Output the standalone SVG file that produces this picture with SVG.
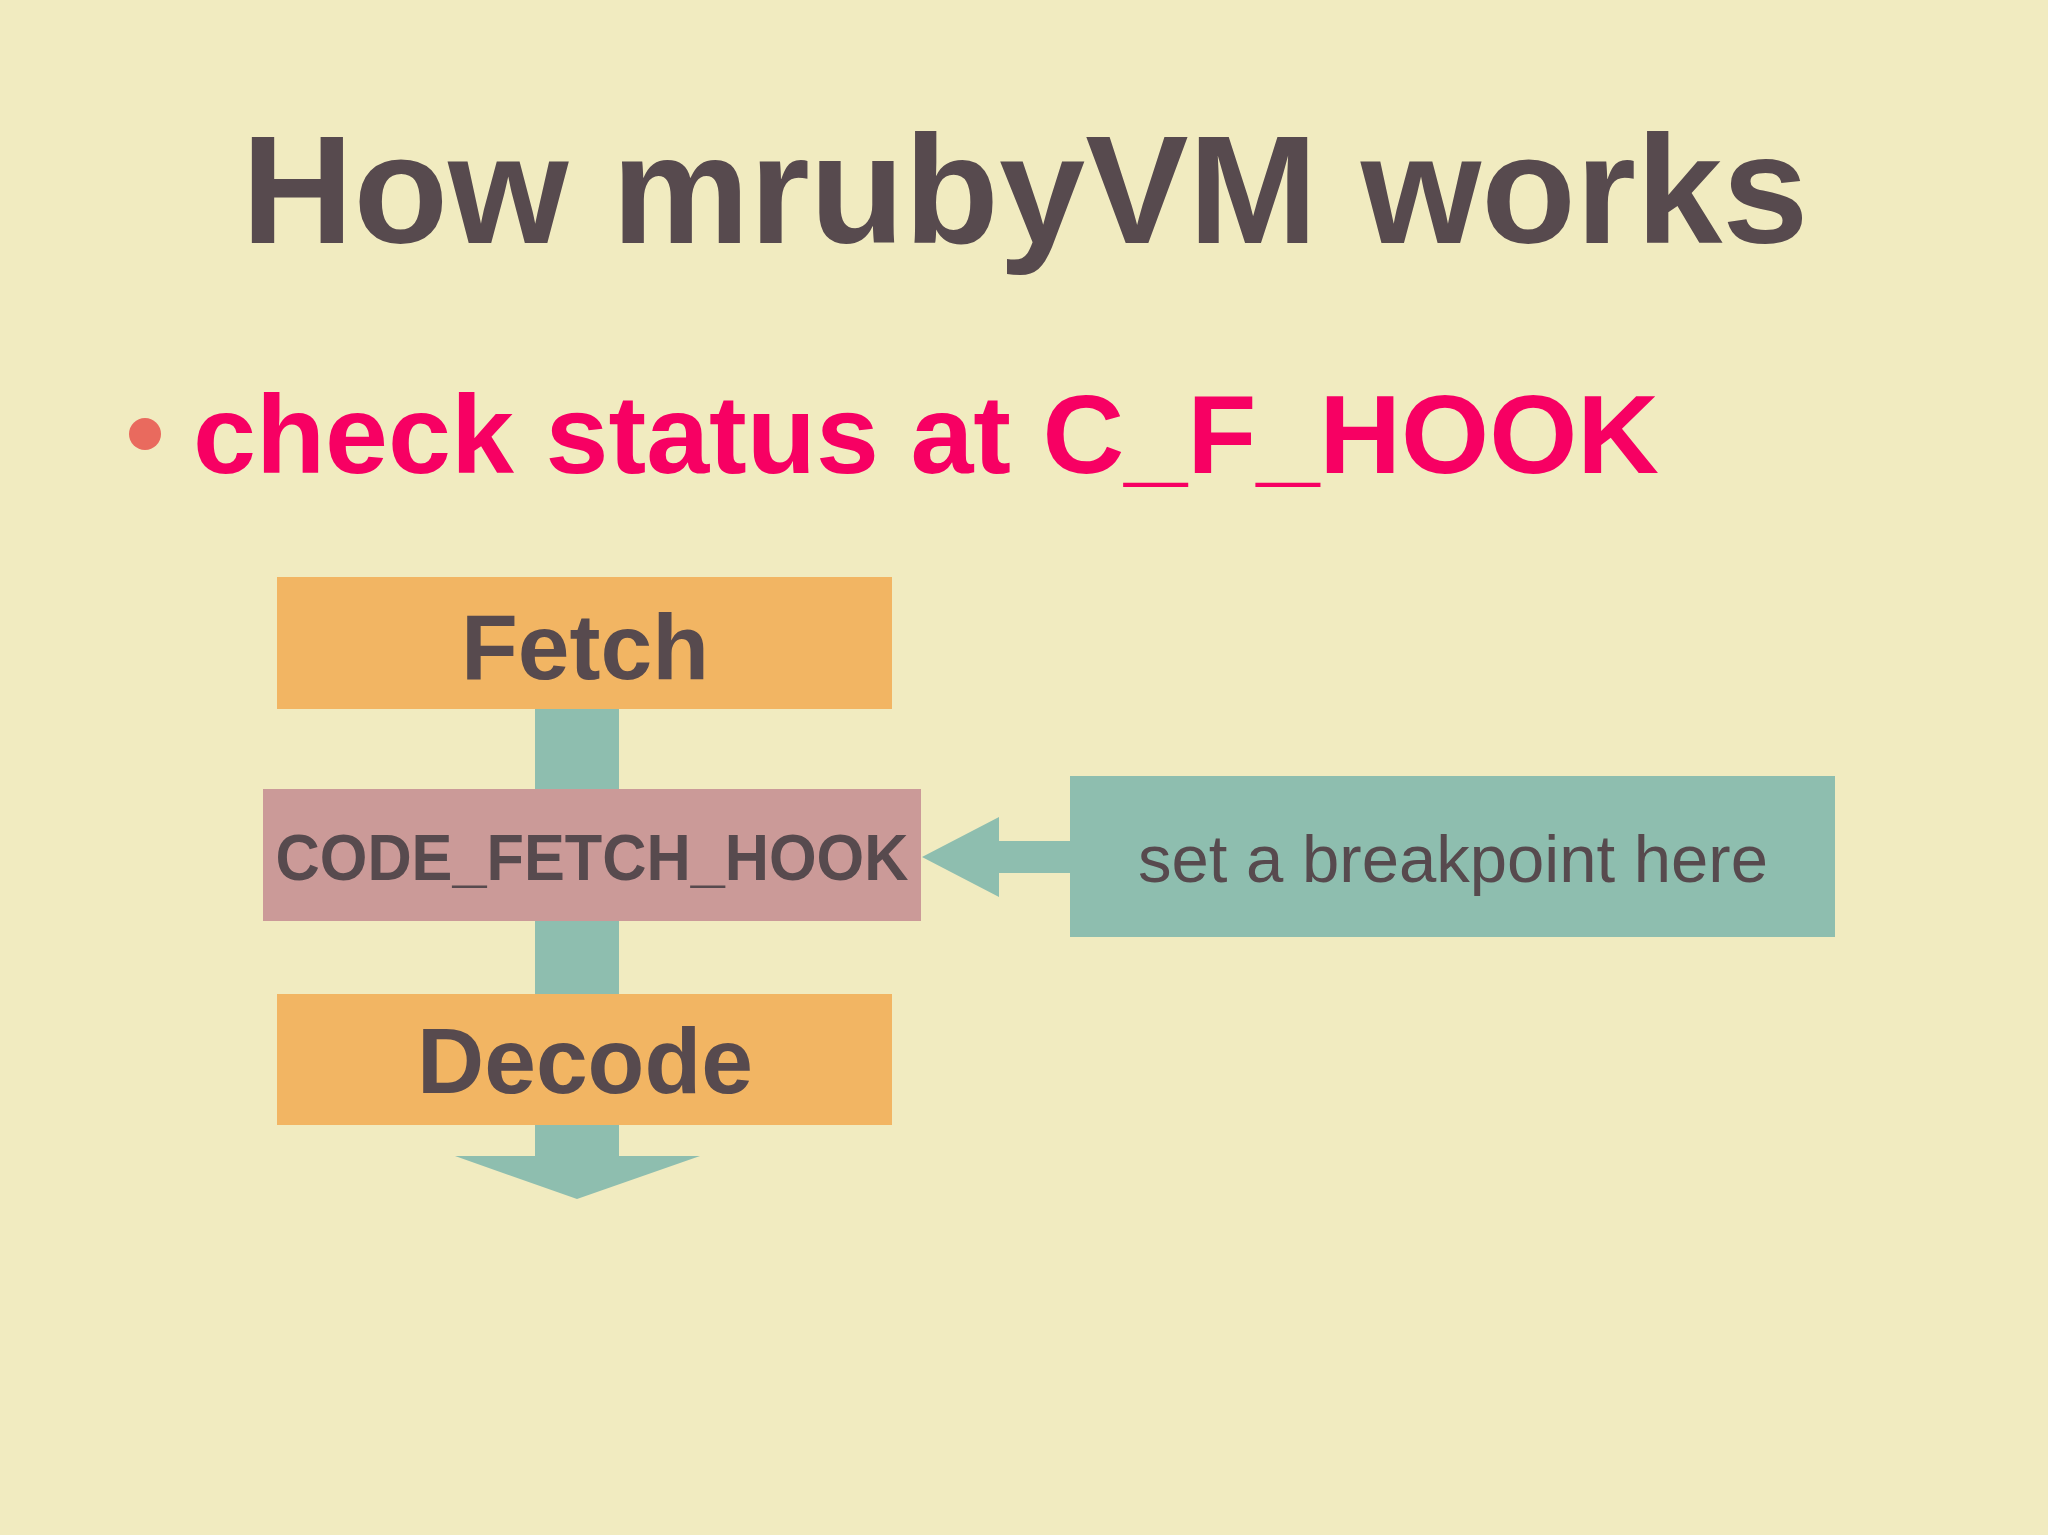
<svg xmlns="http://www.w3.org/2000/svg" width="2048" height="1535" viewBox="0 0 2048 1535">
<style>
  .dark { fill: #574a4e; font-family: "Liberation Sans", Arial, Helvetica, sans-serif; }
  .bold { font-weight: bold; }
  .orange { fill: #f2b563; }
  .pink { fill: #cb9a98; }
  .teal { fill: #8ebeaf; }
</style>
<rect x="0" y="0" width="2048" height="1535" fill="#f1ebc0"/>
<g id="title">
  <text class="dark bold" x="1025" y="243" font-size="154" text-anchor="middle" textLength="1567" lengthAdjust="spacingAndGlyphs">How mrubyVM works</text>
</g>
<g id="bullet">
  <circle cx="145" cy="434" r="16" fill="#e96a5e"/>
  <text x="193" y="473" font-family="Liberation Sans, Arial, sans-serif" font-weight="bold" font-size="112" fill="#f70063" textLength="1466" lengthAdjust="spacingAndGlyphs">check status at C_F_HOOK</text>
</g>
<g id="connectors">
  <polygon class="teal" points="535,709 619,709 619,1156 700,1156 577,1199 455,1156 535,1156"/>
  <polygon class="teal" points="922,857 999,817 999,841 1070,841 1070,873 999,873 999,897"/>
</g>
<g id="fetch">
  <rect class="orange" x="277" y="577" width="615" height="132"/>
  <text class="dark bold" x="585" y="679" font-size="93" text-anchor="middle">Fetch</text>
</g>
<g id="hook">
  <rect class="pink" x="263" y="789" width="658" height="132"/>
  <text class="dark bold" x="592" y="880" font-size="64" text-anchor="middle" textLength="633" lengthAdjust="spacingAndGlyphs">CODE_FETCH_HOOK</text>
</g>
<g id="decode">
  <rect class="orange" x="277" y="994" width="615" height="131"/>
  <text class="dark bold" x="585" y="1093" font-size="93" text-anchor="middle">Decode</text>
</g>
<g id="breakpoint">
  <rect class="teal" x="1070" y="776" width="765" height="161"/>
  <text class="dark" x="1453" y="882" font-size="67" text-anchor="middle" textLength="630" lengthAdjust="spacingAndGlyphs">set a breakpoint here</text>
</g>
</svg>
